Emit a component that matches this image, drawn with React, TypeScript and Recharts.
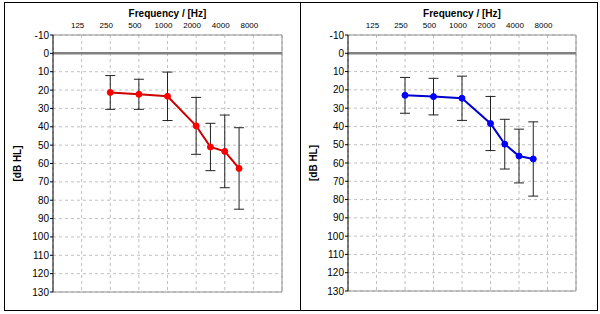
import React from 'react';
import { LineChart, Line, XAxis, YAxis, CartesianGrid, ErrorBar, ReferenceLine, Label } from 'recharts';

// frequency axis labels (evenly spaced octaves) and where each measured frequency sits on that axis
const freqLabels = ['125', '250', '500', '1000', '2000', '4000', '8000'];
const freqTicks = [1, 2, 3, 4, 5, 6, 7];
const measuredFreqs = [250, 500, 1000, 2000, 3000, 4000, 6000];
const freqPositions = [2, 3, 4, 5, 5.5, 6, 6.5];

const dbTicks = [-10, 0, 10, 20, 30, 40, 50, 60, 70, 80, 90, 100, 110, 120, 130];

// left ear (red)
const leftMean = [21.3, 22.3, 23.4, 39.5, 51.0, 53.4, 62.7];
const leftSd = [9.2, 8.2, 13.2, 15.5, 12.9, 19.8, 22.2];

// right ear (blue)
const rightMean = [23.0, 23.7, 24.6, 38.4, 49.7, 56.2, 57.8];
const rightSd = [9.8, 10.0, 12.1, 14.8, 13.6, 14.7, 20.3];

const FONT = '"Liberation Sans", Arial, sans-serif';

const buildRows = (mean: number[], sd: number[]) =>
  measuredFreqs.map((f, i) => ({ freq: f, x: freqPositions[i], db: mean[i], sd: sd[i] }));

interface PanelProps {
  mean: number[];
  sd: number[];
  lineColor: string;
  dotColor: string;
  width: number;
  height: number;
  yAxisWidth: number;
  margin: { top: number; right: number; bottom: number; left: number };
  yTitleX: number;
}

const Panel: React.FC<PanelProps> = ({ mean, sd, lineColor, dotColor, width, height, yAxisWidth, margin, yTitleX }) => {
  const rows = buildRows(mean, sd);

  const renderXTitle = (props: any) => {
    const vb = props.viewBox || {};
    return (
      <text x={vb.x + vb.width / 2} y={15} textAnchor="middle" fontFamily={FONT} fontSize={10} fontWeight="bold" fill="#000">
        Frequency / [Hz]
      </text>
    );
  };

  const renderYTitle = (props: any) => {
    const vb = props.viewBox || {};
    const cy = vb.y + vb.height / 2;
    return (
      <text
        x={yTitleX}
        y={cy}
        transform={`rotate(-90, ${yTitleX}, ${cy})`}
        textAnchor="middle"
        dominantBaseline="central"
        fontFamily={FONT}
        fontSize={10}
        fontWeight="bold"
        fill="#000"
      >
        [dB HL]
      </text>
    );
  };

  return (
    <LineChart width={width} height={height} data={rows} margin={margin}>
      <CartesianGrid stroke="#c0c0c0" strokeDasharray="3 3" />
      <XAxis
        xAxisId={0}
        dataKey="x"
        type="number"
        orientation="top"
        domain={[0, 8]}
        ticks={freqTicks}
        interval={0}
        height={25}
        axisLine={false}
        tickLine={false}
        tickSize={0}
        tickMargin={7}
        tickFormatter={(v: number) => freqLabels[v - 1]}
        tick={{ fontSize: 8, fill: '#000', fontFamily: FONT, dx: -4 }}
      >
        <Label content={renderXTitle} />
      </XAxis>
      <YAxis
        yAxisId={0}
        type="number"
        domain={[-10, 130]}
        ticks={dbTicks}
        interval={0}
        reversed
        width={yAxisWidth}
        axisLine={{ stroke: '#000' }}
        tickLine={{ stroke: '#000' }}
        tickSize={3}
        tickMargin={1}
        tick={{ fontSize: 10, fill: '#000', fontFamily: FONT }}
      >
        <Label content={renderYTitle} />
      </YAxis>
      <ReferenceLine y={-10} stroke="#909090" />
      <ReferenceLine y={130} stroke="#909090" />
      <ReferenceLine x={8} stroke="#909090" />
      <ReferenceLine y={0} stroke="#808080" strokeWidth={2.5} />
      <Line
        type="linear"
        dataKey="db"
        stroke={lineColor}
        strokeWidth={2}
        dot={{ r: 3, fill: dotColor, stroke: dotColor, strokeWidth: 1 }}
        activeDot={false}
        isAnimationActive={false}
      >
        <ErrorBar dataKey="sd" direction="y" width={5} stroke="#222" strokeWidth={1} isAnimationActive={false} />
      </Line>
    </LineChart>
  );
};

export default function App() {
  return (
    <div style={{ position: 'absolute', left: 0, top: 0, width: 600, height: 314, background: '#fff', overflow: 'hidden' }}>
      <div style={{ position: 'absolute', left: 4, top: 2, width: 297, height: 309, boxSizing: 'border-box', border: '1px solid #000' }} />
      <div style={{ position: 'absolute', left: 300, top: 2, width: 298, height: 309, boxSizing: 'border-box', border: '1px solid #000' }} />
      <div style={{ position: 'absolute', left: 4, top: 2 }}>
        <Panel
          mean={leftMean}
          sd={leftSd}
          lineColor="#cc0000"
          dotColor="#ff0000"
          width={296}
          height={308}
          yAxisWidth={49}
          margin={{ top: 8, right: 18, bottom: 18, left: 0 }}
          yTitleX={13.5}
        />
      </div>
      <div style={{ position: 'absolute', left: 300, top: 2 }}>
        <Panel
          mean={rightMean}
          sd={rightSd}
          lineColor="#0000cc"
          dotColor="#0000ff"
          width={297}
          height={308}
          yAxisWidth={48}
          margin={{ top: 8, right: 21, bottom: 19, left: 0 }}
          yTitleX={13}
        />
      </div>
    </div>
  );
}
